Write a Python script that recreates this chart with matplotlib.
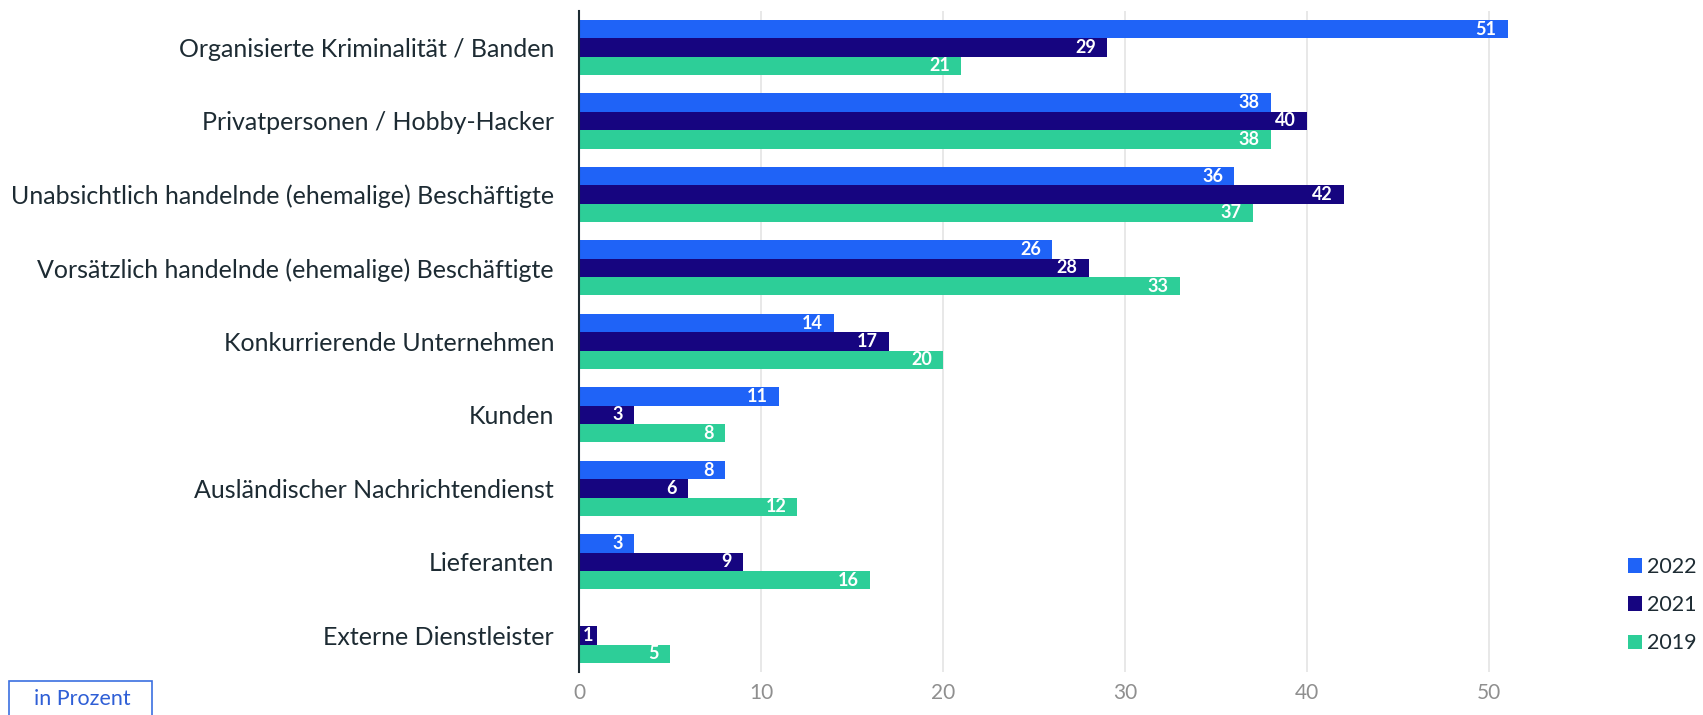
import matplotlib
matplotlib.use("Agg")
import matplotlib.pyplot as plt
import numpy as np
from matplotlib.patches import Rectangle

categories = [
    "Organisierte Kriminalität / Banden",
    "Privatpersonen / Hobby-Hacker",
    "Unabsichtlich handelnde (ehemalige) Beschäftigte",
    "Vorsätzlich handelnde (ehemalige) Beschäftigte",
    "Konkurrierende Unternehmen",
    "Kunden",
    "Ausländischer Nachrichtendienst",
    "Lieferanten",
    "Externe Dienstleister",
]
years = ["2022", "2021", "2019"]
v2022 = [51, 38, 36, 26, 14, 11, 8, 3, 0]
v2021 = [29, 40, 42, 28, 17, 3, 6, 9, 1]
v2019 = [21, 38, 37, 33, 20, 8, 12, 16, 5]
xticks = [0, 10, 20, 30, 40, 50]

colors = ["#1F63F7", "#160580", "#2DCE98"]
FONT = "Lato"
plt.rcParams["font.family"] = [FONT, "DejaVu Sans"]

fig = plt.figure(figsize=(17.03, 7.15), dpi=100)
ax = fig.add_axes([0.340, 0.060, 0.588, 0.925])

y = np.arange(len(categories))
h = 0.25
series = [v2022, v2021, v2019]
for i, (vals, col, yr) in enumerate(zip(series, colors, years)):
    pos = y + (i - 1) * h
    ax.barh(pos, vals, height=h, color=col, label=yr, zorder=3)
    for p, v in zip(pos, vals):
        if v > 0:
            off = -8 if v > 1 else -3
            ax.annotate(str(v), xy=(v, p), xytext=(off, 0), textcoords="offset points",
                        ha="right", va="center", color="white",
                        fontsize=13, fontweight="bold", zorder=6)

ax.set_ylim(len(categories) - 0.5, -0.5)
ax.set_xlim(0, 55)
ax.set_yticks(y)
ax.set_yticklabels(categories, fontsize=18, color="#1d2b33")
ax.set_xticks(xticks)
ax.set_xticklabels([str(t) for t in xticks], fontsize=15, color="#8f8f8f")
ax.tick_params(axis="y", length=0, pad=18)
ax.tick_params(axis="x", length=0, pad=8)
ax.grid(axis="x", color="#e4e4e4", linewidth=1.2, zorder=0)
for s in ["top", "right", "bottom"]:
    ax.spines[s].set_visible(False)
ax.spines["left"].set_color("#1d2b33")
ax.spines["left"].set_linewidth(1.5)
ax.spines["left"].set_zorder(5)

leg = fig.legend(loc="lower right", bbox_to_anchor=(0.999, 0.080), frameon=False,
                 fontsize=15.5, handlelength=0.65, handleheight=0.65,
                 handletextpad=0.25, labelspacing=0.85, borderaxespad=0,
                 borderpad=0.2)
for t in leg.get_texts():
    t.set_color("#1d2b33")

# "in Prozent" box
fig.patches.append(Rectangle((9 / 1703, -0.02), (152 - 9) / 1703, (715 - 681) / 715 + 0.02,
                             transform=fig.transFigure, fill=False,
                             edgecolor="#3B6FE0", linewidth=1.2))
fig.text(82 / 1703, 1 - 699 / 715, "in Prozent", ha="center", va="center",
         fontsize=15.5, color="#2F5FD6")

fig.savefig("out.png", dpi=100, facecolor="white")
